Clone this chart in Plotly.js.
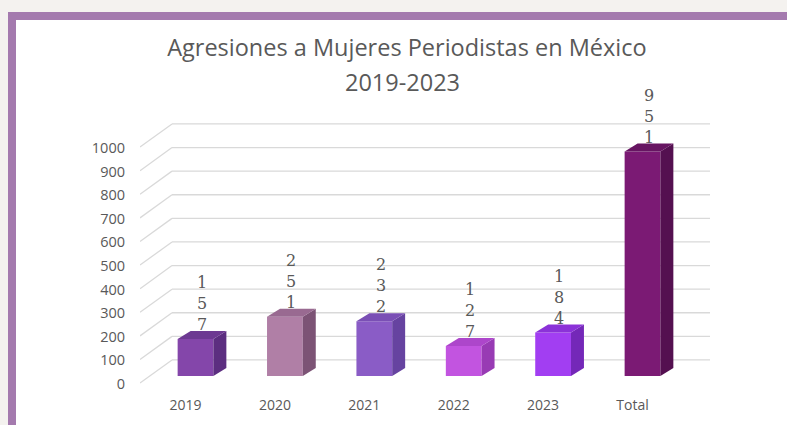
<!DOCTYPE html>
<html>
<head>
<meta charset="utf-8">
<script src="https://cdn.plot.ly/plotly-3.0.1.min.js"></script>
<style>
  html, body { margin: 0; padding: 0; background: #f4f2ef; width: 787px; height: 425px; overflow: hidden; }
  #frame { position: absolute; left: 8px; top: 12px; width: 779px; height: 413px;
           border-top: 8px solid #a47aae; border-left: 8px solid #a47aae; box-sizing: border-box; background: #fff; }
  #chart { position: absolute; left: 0; top: 0; width: 771px; height: 405px; }
</style>
</head>
<body>
<div id="frame"><div id="chart"></div></div>
<script>
// ---- data ----
const categories = ['2019', '2020', '2021', '2022', '2023', 'Total'];
const values = [157, 251, 232, 127, 184, 951];
const yTickVals = [0, 100, 200, 300, 400, 500, 600, 700, 800, 900, 1000];

// ---- style ----
const frontColors = ['#8446aa', '#b07fa6', '#8a5cc6', '#c254e0', '#a23ef2', '#7b1a74'];
const sideColors  = ['#5c2e80', '#7c5375', '#6643a0', '#983bb4', '#7428b8', '#541050'];
const topColors   = ['#6d3992', '#996a91', '#7a4fb5', '#ad46cb', '#8b32d8', '#671562'];

const halfW = 0.2;        // half bar width (category units)
const depthX = 0.145;     // bar depth, x direction (units)
const depthY = 34;        // bar depth, y direction (value units)
const wallX0 = -0.263;    // back wall left edge
const wallDY = 68;        // back wall vertical offset
const frontDY = -30;      // floor front edge offset
const xRange = [-0.621, 5.755];
const yRange = [-38.1, 1101.7];

const idx = categories.map((c, i) => i);
const traces = [];

traces.push({
  type: 'bar', x: idx, y: values, width: halfW * 2,
  marker: { color: frontColors, line: { width: 0 } },
  hoverinfo: 'skip', showlegend: false
});

values.forEach((v, i) => {
  const xr = i + halfW;
  traces.push({
    type: 'scatter', mode: 'lines', fill: 'toself',
    x: [xr, xr + depthX, xr + depthX, xr, xr],
    y: [0, depthY, v + depthY, v, 0],
    line: { width: 0 }, fillcolor: sideColors[i],
    hoverinfo: 'skip', showlegend: false
  });
  traces.push({
    type: 'scatter', mode: 'lines', fill: 'toself',
    x: [i - halfW, xr, xr + depthX, i - halfW + depthX, i - halfW],
    y: [v, v, v + depthY, v + depthY, v],
    line: { width: 0 }, fillcolor: topColors[i],
    hoverinfo: 'skip', showlegend: false
  });
});

const shapes = [];
yTickVals.forEach(v => {
  shapes.push({ type: 'line', layer: 'below', xref: 'x', yref: 'y',
    x0: wallX0, y0: v + wallDY, x1: xRange[1], y1: v + wallDY,
    line: { color: '#d9d9d9', width: 1.3 } });
  shapes.push({ type: 'line', layer: 'below', xref: 'x', yref: 'y',
    x0: xRange[0], y0: v + frontDY, x1: wallX0, y1: v + wallDY,
    line: { color: '#d9d9d9', width: 1.3 } });
});

const annotations = values.map((v, i) => ({
  x: i + 0.07, y: v, xref: 'x', yref: 'y',
  text: String(v).split('').join('<br>'),
  showarrow: false, yanchor: 'bottom', yshift: 3,
  font: { family: 'DejaVu Serif, serif', size: 16, color: '#595959' }
}));
annotations.push({
  xref: 'paper', yref: 'paper', x: 0.4614, y: 1,
  text: '2019-2023', showarrow: false, xanchor: 'center', yanchor: 'middle',
  font: { family: 'Open Sans, sans-serif', size: 23.5, color: '#595959' }
});

const layout = {
  width: 771, height: 405,
  margin: { l: 124, r: 77, t: 96, b: 40 },
  paper_bgcolor: '#ffffff', plot_bgcolor: 'rgba(0,0,0,0)',
  title: {
    text: 'Agresiones a Mujeres Periodistas en México',
    font: { family: 'Open Sans, sans-serif', size: 23.5, color: '#595959' },
    xref: 'container', yref: 'container', x: 0.5070, y: 1 - 28 / 405,
    xanchor: 'center', yanchor: 'middle'
  },
  xaxis: {
    range: xRange, tickvals: idx, ticktext: categories,
    showgrid: false, zeroline: false, showline: false,
    ticklabelshift: -10, ticklabelstandoff: 10,
    tickfont: { family: 'Open Sans, sans-serif', size: 14, color: '#595959' },
    fixedrange: true
  },
  yaxis: {
    range: yRange, tickvals: yTickVals,
    showgrid: false, zeroline: false, showline: false,
    ticklabelshift: 8, ticklabelstandoff: 14,
    tickfont: { family: 'Open Sans, sans-serif', size: 14.5, color: '#595959' },
    fixedrange: true
  },
  shapes: shapes,
  annotations: annotations,
  showlegend: false
};
// position second title line in paper coords
annotations[annotations.length - 1].y = 1 + (96 - 62) / (405 - 96 - 40);

Plotly.newPlot('chart', traces, layout, { displayModeBar: false, staticPlot: true });
</script>
</body>
</html>
